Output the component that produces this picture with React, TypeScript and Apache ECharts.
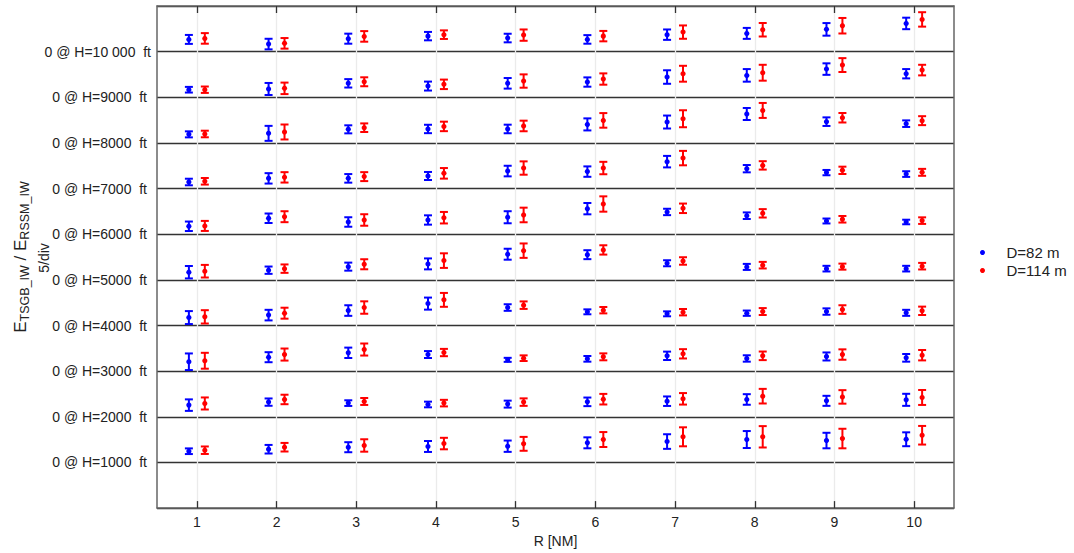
import React, { useEffect, useRef } from "react";
import * as echarts from "echarts";

// ---- data ----
const R = [1, 2, 3, 4, 5, 6, 7, 8, 9, 10];
const H_LABELS = ["1000", "2000", "3000", "4000", "5000", "6000", "7000", "8000", "9000", "10 000"];
const SERIES_NAMES = ["D=82 m", "D=114 m"];
const STEP = 5; // 5/div

// rows: H=1000 ... H=10 000 ; columns: R=1..10
const d82Mean = [
  [1.23, 1.45, 1.67, 1.75, 1.78, 2.15, 2.29, 2.51, 2.40, 2.54],
  [1.28, 1.61, 1.50, 1.35, 1.39, 1.64, 1.71, 1.90, 1.75, 1.86],
  [1.03, 1.53, 2.01, 1.82, 1.24, 1.35, 1.68, 1.39, 1.61, 1.46],
  [0.87, 1.14, 1.64, 2.40, 1.97, 1.50, 1.28, 1.35, 1.53, 1.39],
  [0.84, 1.06, 1.45, 1.75, 2.81, 2.76, 1.82, 1.42, 1.23, 1.23],
  [0.87, 1.75, 1.34, 1.56, 1.86, 2.80, 2.44, 2.03, 1.45, 1.34],
  [0.72, 1.12, 1.12, 1.38, 1.92, 1.86, 2.95, 2.18, 1.75, 1.59],
  [0.94, 1.05, 1.49, 1.53, 1.53, 2.03, 2.29, 3.17, 2.33, 2.11],
  [0.83, 0.91, 1.53, 1.23, 1.53, 1.67, 2.22, 2.40, 3.09, 2.58],
  [1.34, 0.83, 1.42, 1.70, 1.49, 1.34, 1.86, 2.00, 2.44, 3.09],
];
const d82Err = [
  [0.31, 0.47, 0.55, 0.60, 0.62, 0.60, 0.80, 0.93, 0.85, 0.76],
  [0.63, 0.40, 0.31, 0.31, 0.38, 0.47, 0.52, 0.58, 0.55, 0.66],
  [0.91, 0.55, 0.57, 0.38, 0.22, 0.31, 0.46, 0.35, 0.44, 0.42],
  [0.71, 0.58, 0.58, 0.66, 0.36, 0.27, 0.27, 0.29, 0.35, 0.33],
  [0.68, 0.40, 0.44, 0.60, 0.60, 0.49, 0.33, 0.33, 0.31, 0.31],
  [0.52, 0.52, 0.52, 0.51, 0.66, 0.62, 0.35, 0.36, 0.27, 0.25],
  [0.36, 0.57, 0.47, 0.44, 0.58, 0.57, 0.63, 0.40, 0.29, 0.31],
  [0.33, 0.82, 0.44, 0.46, 0.47, 0.66, 0.71, 0.66, 0.47, 0.36],
  [0.31, 0.66, 0.46, 0.49, 0.58, 0.51, 0.74, 0.69, 0.63, 0.51],
  [0.49, 0.58, 0.55, 0.46, 0.47, 0.47, 0.57, 0.60, 0.69, 0.63],
];
const d114Mean = [
  [1.34, 1.67, 1.86, 2.07, 2.04, 2.51, 2.81, 2.81, 2.62, 2.98],
  [1.46, 1.90, 1.68, 1.50, 1.61, 1.93, 1.97, 2.26, 2.18, 2.12],
  [1.14, 1.82, 2.37, 2.04, 1.42, 1.57, 1.90, 1.68, 1.82, 1.75],
  [0.95, 1.35, 1.97, 2.81, 2.23, 1.68, 1.46, 1.53, 1.75, 1.61],
  [0.95, 1.23, 1.71, 2.11, 3.20, 3.28, 2.07, 1.61, 1.45, 1.50],
  [0.91, 1.92, 1.56, 1.81, 2.11, 3.31, 2.84, 2.29, 1.64, 1.49],
  [0.80, 1.23, 1.31, 1.67, 2.25, 2.25, 3.34, 2.54, 2.00, 1.78],
  [0.98, 1.20, 1.67, 1.81, 1.86, 2.47, 2.65, 3.56, 2.76, 2.44],
  [0.83, 0.98, 1.70, 1.42, 1.78, 2.00, 2.58, 2.69, 3.53, 2.98],
  [1.45, 0.91, 1.67, 1.86, 1.81, 1.70, 2.14, 2.40, 2.84, 3.53],
];
const d114Err = [
  [0.41, 0.47, 0.68, 0.63, 0.76, 0.82, 1.04, 1.17, 1.07, 1.02],
  [0.66, 0.52, 0.38, 0.36, 0.41, 0.58, 0.63, 0.80, 0.74, 0.82],
  [0.87, 0.66, 0.66, 0.40, 0.31, 0.38, 0.51, 0.47, 0.57, 0.57],
  [0.73, 0.60, 0.68, 0.76, 0.41, 0.35, 0.35, 0.38, 0.47, 0.46],
  [0.69, 0.46, 0.55, 0.80, 0.79, 0.51, 0.41, 0.36, 0.33, 0.36],
  [0.55, 0.60, 0.63, 0.63, 0.80, 0.84, 0.52, 0.46, 0.36, 0.36],
  [0.36, 0.57, 0.49, 0.58, 0.73, 0.68, 0.79, 0.46, 0.40, 0.38],
  [0.36, 0.82, 0.47, 0.52, 0.58, 0.80, 0.93, 0.82, 0.52, 0.49],
  [0.35, 0.63, 0.49, 0.52, 0.73, 0.62, 0.87, 0.87, 0.76, 0.58],
  [0.58, 0.58, 0.58, 0.47, 0.62, 0.57, 0.73, 0.74, 0.85, 0.79],
];

const FONT = "'Liberation Sans', Arial, Helvetica, sans-serif";
const BLUE = "#0000ff";
const RED = "#ff0000";
const X_SHIFT = 0.1;

function buildData(mean: number[][], err: number[][], shift: number) {
  const out: number[][] = [];
  mean.forEach((row, hi) => {
    const base = (hi + 1) * STEP;
    row.forEach((v, ri) => {
      const e = err[hi][ri];
      out.push([R[ri] + shift, base + v, base + v - e, base + v + e]);
    });
  });
  return out;
}

function errRenderer(color: string) {
  return (params: any, api: any) => {
    const x = api.value(0);
    const c = api.coord([x, api.value(1)]);
    const lo = api.coord([x, api.value(2)]);
    const hi = api.coord([x, api.value(3)]);
    const hw = 4;
    const st = { stroke: color, lineWidth: 2 };
    return {
      type: "group",
      children: [
        { type: "line", shape: { x1: c[0], y1: lo[1], x2: c[0], y2: hi[1] }, style: st },
        { type: "line", shape: { x1: c[0] - hw, y1: lo[1], x2: c[0] + hw, y2: lo[1] }, style: st },
        { type: "line", shape: { x1: c[0] - hw, y1: hi[1], x2: c[0] + hw, y2: hi[1] }, style: st },
        { type: "circle", shape: { cx: c[0], cy: c[1], r: 2.6 }, style: { fill: color } },
      ],
    };
  };
}

export default function App() {
  const ref = useRef<HTMLDivElement>(null);
  useEffect(() => {
    if (!ref.current) return;
    const chart = echarts.init(ref.current, null, { renderer: "svg" });
    const yMax = (H_LABELS.length + 1) * STEP;
    const option: any = {
      animation: false,
      backgroundColor: "#ffffff",
      grid: { left: 157, right: 120, top: 6, bottom: 44, containLabel: false },
      legend: {
        orient: "vertical",
        left: 975,
        top: 240,
        itemWidth: 14,
        itemHeight: 5,
        itemGap: 3,
        textStyle: { fontSize: 15, color: "#222", fontFamily: FONT, padding: [0, 0, 0, 12] },
        data: [
          { name: SERIES_NAMES[0], icon: "circle", itemStyle: { color: BLUE } },
          { name: SERIES_NAMES[1], icon: "circle", itemStyle: { color: RED } },
        ],
      },
      xAxis: [
        {
          type: "value",
          min: 0.5,
          max: 10.5,
          position: "bottom",
          axisLine: { show: true, onZero: false, lineStyle: { color: "#666", width: 1.5 } },
          axisTick: { show: true, inside: true, length: 7, customValues: R, lineStyle: { color: "#333", width: 1.3 } },
          axisLabel: { customValues: R, fontSize: 14, color: "#222", margin: 7, fontFamily: FONT },
          splitLine: { show: true, lineStyle: { color: "#ebebeb", width: 1.3 } },
          name: "R [NM]",
          nameLocation: "middle",
          nameGap: 25,
          nameTextStyle: { fontSize: 14, color: "#222", fontFamily: FONT },
        },
        {
          type: "value",
          min: 0.5,
          max: 10.5,
          position: "top",
          axisLine: { show: true, onZero: false, lineStyle: { color: "#666", width: 1.5 } },
          axisTick: { show: true, inside: true, length: 7, customValues: R, lineStyle: { color: "#333", width: 1.3 } },
          axisLabel: { show: false },
          splitLine: { show: false },
        },
      ],
      yAxis: [
        {
          type: "value",
          min: 0,
          max: yMax,
          interval: STEP,
          axisLine: { show: true, onZero: false, lineStyle: { color: "#666", width: 1.5 } },
          axisTick: { show: false },
          splitLine: { show: true, lineStyle: { color: "#333", width: 1.3 } },
          axisLabel: {
            margin: 6,
            fontSize: 14,
            color: "#222",
            fontFamily: FONT,
            formatter: (v: number) => {
              const idx = Math.round(v / STEP) - 1;
              if (idx < 0 || idx >= H_LABELS.length) return "";
              const txt = `0 @ H=${H_LABELS[idx]}  ft`;
              return idx === H_LABELS.length - 1 ? `{w|${txt}}` : `{n|${txt}}`;
            },
            rich: {
              n: { fontSize: 14, color: "#222", fontFamily: FONT, padding: [0, 4, 0, 0] },
              w: { fontSize: 14, color: "#222", fontFamily: FONT },
            },
          },
        },
        {
          type: "value",
          min: 0,
          max: yMax,
          position: "right",
          axisLine: { show: true, onZero: false, lineStyle: { color: "#666", width: 1.5 } },
          axisTick: { show: false },
          axisLabel: { show: false },
          splitLine: { show: false },
        },
      ],
      graphic: [
        {
          type: "text",
          x: 20,
          y: 257,
          rotation: Math.PI / 2,
          style: {
            text: "{m|E}{s|TSGB_IW}{m| / E}{s|RSSM_IW}",
            align: "center",
            verticalAlign: "middle",
            fill: "#222",
            rich: {
              m: { fontSize: 17, fontFamily: FONT, fill: "#222", lineHeight: 22, verticalAlign: "middle" },
              s: { fontSize: 12.5, fontFamily: FONT, fill: "#222", lineHeight: 12, verticalAlign: "bottom" },
            },
          },
        },
        {
          type: "text",
          x: 44,
          y: 258,
          rotation: Math.PI / 2,
          style: {
            text: "5/div",
            align: "center",
            verticalAlign: "middle",
            fill: "#222",
            fontSize: 14,
            fontFamily: FONT,
          },
        },
      ],
      series: [
        {
          name: SERIES_NAMES[0],
          type: "custom",
          itemStyle: { color: BLUE },
          renderItem: errRenderer(BLUE),
          encode: { x: 0, y: 1 },
          data: buildData(d82Mean, d82Err, -X_SHIFT),
          z: 10,
        },
        {
          name: SERIES_NAMES[1],
          type: "custom",
          itemStyle: { color: RED },
          renderItem: errRenderer(RED),
          encode: { x: 0, y: 1 },
          data: buildData(d114Mean, d114Err, X_SHIFT),
          z: 10,
        },
      ],
    };
    chart.setOption(option);
    return () => chart.dispose();
  }, []);
  return <div ref={ref} style={{ position: "absolute", left: 0, top: 0, width: 1074, height: 553 }} />;
}
